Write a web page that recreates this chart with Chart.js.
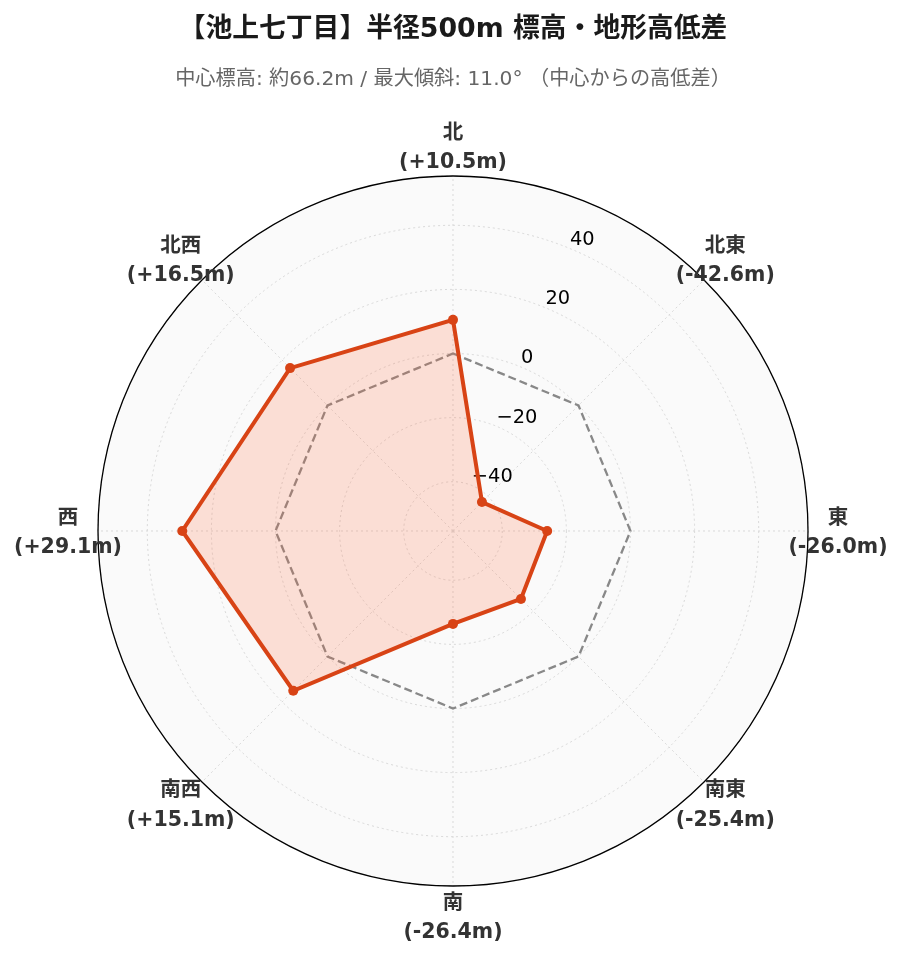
<!DOCTYPE html>
<html>
<head>
<meta charset="utf-8">
<script src="https://cdn.jsdelivr.net/npm/chart.js@4.4.0/dist/chart.umd.min.js"></script>
<style>
  html, body { margin: 0; padding: 0; background: #fff; }
  #wrap { width: 903px; height: 962px; }
</style>
</head>
<body>
<div id="wrap"><canvas id="elevationRadar"></canvas></div>
<script>
// directions, clockwise from north
const directions = ['北', '北東', '東', '南東', '南', '南西', '西', '北西'];
// elevation difference from the centre point (m)
const elevationDiff = [10.5, -42.6, -26.0, -25.4, -26.4, 15.1, 29.1, 16.5];
// zero reference ring
const zeroLine = [0, 0, 0, 0, 0, 0, 0, 0];
const tickValues = [-40, -20, 0, 20, 40];
const rMin = -55.38;
const rMax = 55.38;

const titleText = '【池上七丁目】半径500m 標高・地形高低差';
const subtitleText = '中心標高: 約66.2m / 最大傾斜: 11.0° （中心からの高低差）';

const fontFamily = '"DejaVu Sans", "Noto Sans CJK JP", sans-serif';

function formatDiff(v) {
  return '(' + (v >= 0 ? '+' : '-') + Math.abs(v).toFixed(1) + 'm)';
}

// light gray disc behind the grid
const backgroundDisc = {
  id: 'backgroundDisc',
  beforeDraw(chart) {
    const r = chart.scales.r;
    const ctx = chart.ctx;
    ctx.save();
    ctx.beginPath();
    ctx.arc(r.xCenter, r.yCenter, r.drawingArea, 0, Math.PI * 2);
    ctx.fillStyle = '#fafafa';
    ctx.fill();
    ctx.restore();
  }
};

// radial tick labels at 22.5 degrees, drawn under the data
const angledTicks = {
  id: 'angledTicks',
  beforeDatasetsDraw(chart) {
    const r = chart.scales.r;
    const ctx = chart.ctx;
    const a = 22.5 * Math.PI / 180;
    ctx.save();
    ctx.font = '19.4px ' + fontFamily;
    ctx.fillStyle = '#000';
    ctx.textAlign = 'left';
    ctx.textBaseline = 'bottom';
    tickValues.forEach(v => {
      const d = r.getDistanceFromCenterForValue(v);
      const x = r.xCenter + d * Math.sin(a);
      const y = r.yCenter - d * Math.cos(a) + 1;
      ctx.fillText(String(v).replace('-', '\u2212'), x, y);
    });
    ctx.restore();
  }
};

// outer black ring and two-line direction labels
const outerRing = {
  id: 'outerRing',
  afterDatasetsDraw(chart) {
    const r = chart.scales.r;
    const ctx = chart.ctx;
    ctx.save();
    ctx.beginPath();
    ctx.arc(r.xCenter, r.yCenter, r.drawingArea, 0, Math.PI * 2);
    ctx.strokeStyle = '#000';
    ctx.lineWidth = 1.3;
    ctx.stroke();

    ctx.font = 'bold 20.5px ' + fontFamily;
    ctx.fillStyle = '#333';
    ctx.textAlign = 'center';
    ctx.textBaseline = 'middle';
    directions.forEach((name, i) => {
      const p = r.getPointPosition(i, r.drawingArea + 30);
      ctx.fillText(name, p.x, p.y - 12.3);
      ctx.fillText(formatDiff(elevationDiff[i]), p.x, p.y + 17.1);
    });
    ctx.restore();
  }
};

const ctx = document.getElementById('elevationRadar').getContext('2d');

new Chart(ctx, {
  type: 'radar',
  data: {
    labels: directions,
    datasets: [
      {
        label: '高低差',
        data: elevationDiff,
        borderColor: '#d84315',
        backgroundColor: 'rgba(255,112,67,0.2)',
        borderWidth: 4,
        pointRadius: 5,
        pointBackgroundColor: '#d84315',
        pointBorderWidth: 0,
        fill: 'start',
        order: 0
      },
      {
        label: '基準 (0m)',
        data: zeroLine,
        borderColor: '#888888',
        borderWidth: 2.3,
        borderDash: [8, 4],
        pointRadius: 0,
        fill: false,
        order: 1
      }
    ]
  },
  options: {
    responsive: true,
    maintainAspectRatio: false,
    animation: false,
    layout: {
      padding: { left: 98, right: 95, top: 0, bottom: 76 }
    },
    scales: {
      r: {
        min: rMin,
        max: rMax,
        afterBuildTicks(scale) {
          scale.ticks = [rMin, ...tickValues, rMax].map(v => ({ value: v }));
        },
        ticks: { display: false },
        pointLabels: { display: false },
        grid: {
          circular: true,
          color: '#d9d9d9',
          lineWidth: 1
        },
        border: { dash: [2, 3] },
        angleLines: {
          display: true,
          color: '#d9d9d9',
          lineWidth: 1,
          borderDash: [2, 3]
        }
      }
    },
    plugins: {
      legend: { display: false },
      tooltip: { enabled: false },
      title: {
        display: true,
        text: titleText,
        color: '#1a1a1a',
        font: { family: fontFamily, size: 26.8, weight: 'bold' },
        padding: { top: 13.5, bottom: 21.8 }
      },
      subtitle: {
        display: true,
        text: subtitleText,
        color: '#666',
        font: { family: fontFamily, size: 20.2 },
        padding: { top: 0, bottom: 84.3 }
      }
    }
  },
  plugins: [backgroundDisc, angledTicks, outerRing]
});
</script>
</body>
</html>
